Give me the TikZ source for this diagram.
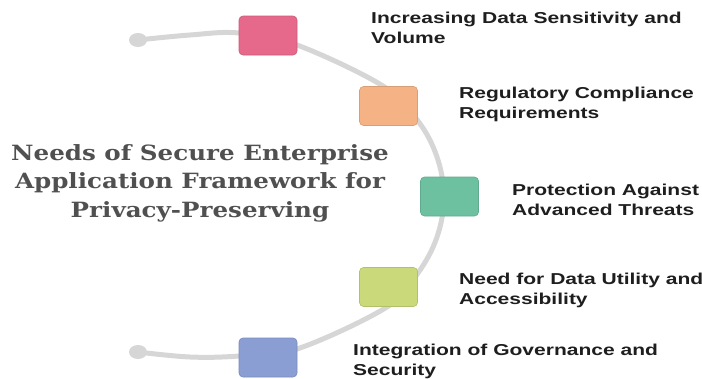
\documentclass[tikz,border=0pt]{standalone}
\usepackage{fontspec}
\setmainfont{Liberation Sans}
\newfontfamily\lblfont{Liberation Sans}[FakeStretch=1.33]
\newfontfamily\ttlfont{DejaVu Serif}[FakeStretch=1.17]
\definecolor{arcgray}{HTML}{D6D6D6}
\definecolor{cpink}{HTML}{E6688A}
\definecolor{corange}{HTML}{F5B385}
\definecolor{cgreen}{HTML}{6DC1A1}
\definecolor{cyell}{HTML}{CADA7A}
\definecolor{cblue}{HTML}{8A9ED4}
\definecolor{ttlgray}{HTML}{505050}
\definecolor{lblcol}{HTML}{1E1E1E}
\tikzset{
  stepbox/.style={minimum width=58pt, minimum height=39pt, rounded corners=4pt, inner sep=0pt, line width=0.6pt},
  lbl/.style={anchor=north west, align=left, inner sep=0pt, text=lblcol, font=\lblfont\bfseries\fontsize{15.8pt}{20pt}\selectfont},
  ttl/.style={align=center, inner sep=0pt, text=ttlgray, font=\ttlfont\bfseries\fontsize{21pt}{28.5pt}\selectfont},
  arcline/.style={draw=arcgray, line width=5pt, line cap=round, line join=round}
}
\begin{document}
\begin{tikzpicture}[x=1pt,y=-1pt]
\useasboundingbox (0,0) rectangle (702,378);
% arc path points
\coordinate (p0) at (138,40);
\coordinate (p1) at (190,35);
\coordinate (p2) at (239,33);
\coordinate (p3) at (297,45);
\coordinate (p4) at (383,86);
\coordinate (p5) at (418,121);
\coordinate (p6) at (437,157);
\coordinate (p7) at (444,197);
\coordinate (p8) at (437,237);
\coordinate (p9) at (418,273);
\coordinate (p10) at (387,307);
\coordinate (p11) at (297,349);
\coordinate (p12) at (239,356);
\coordinate (p13) at (190,357);
\coordinate (p14) at (138,352);
\draw[arcline] plot[smooth, tension=0.6] coordinates {(p0) (p1) (p2) (p3) (p4) (p5) (p6) (p7) (p8) (p9) (p10) (p11) (p12) (p13) (p14)};
\fill[arcgray] (p0) ellipse [x radius=9pt, y radius=7pt];
\fill[arcgray] (p14) ellipse [x radius=9pt, y radius=7pt];
% boxes
\node[stepbox, fill=cpink, draw=cpink!88!black] (b1) at (268,35.5) {};
\node[stepbox, fill=corange, draw=corange!88!black] (b2) at (388.5,106) {};
\node[stepbox, fill=cgreen, draw=cgreen!88!black] (b3) at (449.5,196.5) {};
\node[stepbox, fill=cyell, draw=cyell!88!black] (b4) at (388.5,287) {};
\node[stepbox, fill=cblue, draw=cblue!88!black] (b5) at (268,357.5) {};
% labels
\node[lbl] (l1) at (371,12) {Increasing Data Sensitivity and\\Volume};
\node[lbl] (l2) at (459,86.5) {Regulatory Compliance\\Requirements};
\node[lbl] (l3) at (512,184) {Protection Against\\Advanced Threats};
\node[lbl] (l4) at (459,272.5) {Need for Data Utility and\\Accessibility};
\node[lbl] (l5) at (353,344) {Integration of Governance and\\Security};
% title
\node[ttl, anchor=north] (t) at (200,144) {Needs of Secure Enterprise\\Application Framework for\\Privacy-Preserving};
\end{tikzpicture}
\end{document}
